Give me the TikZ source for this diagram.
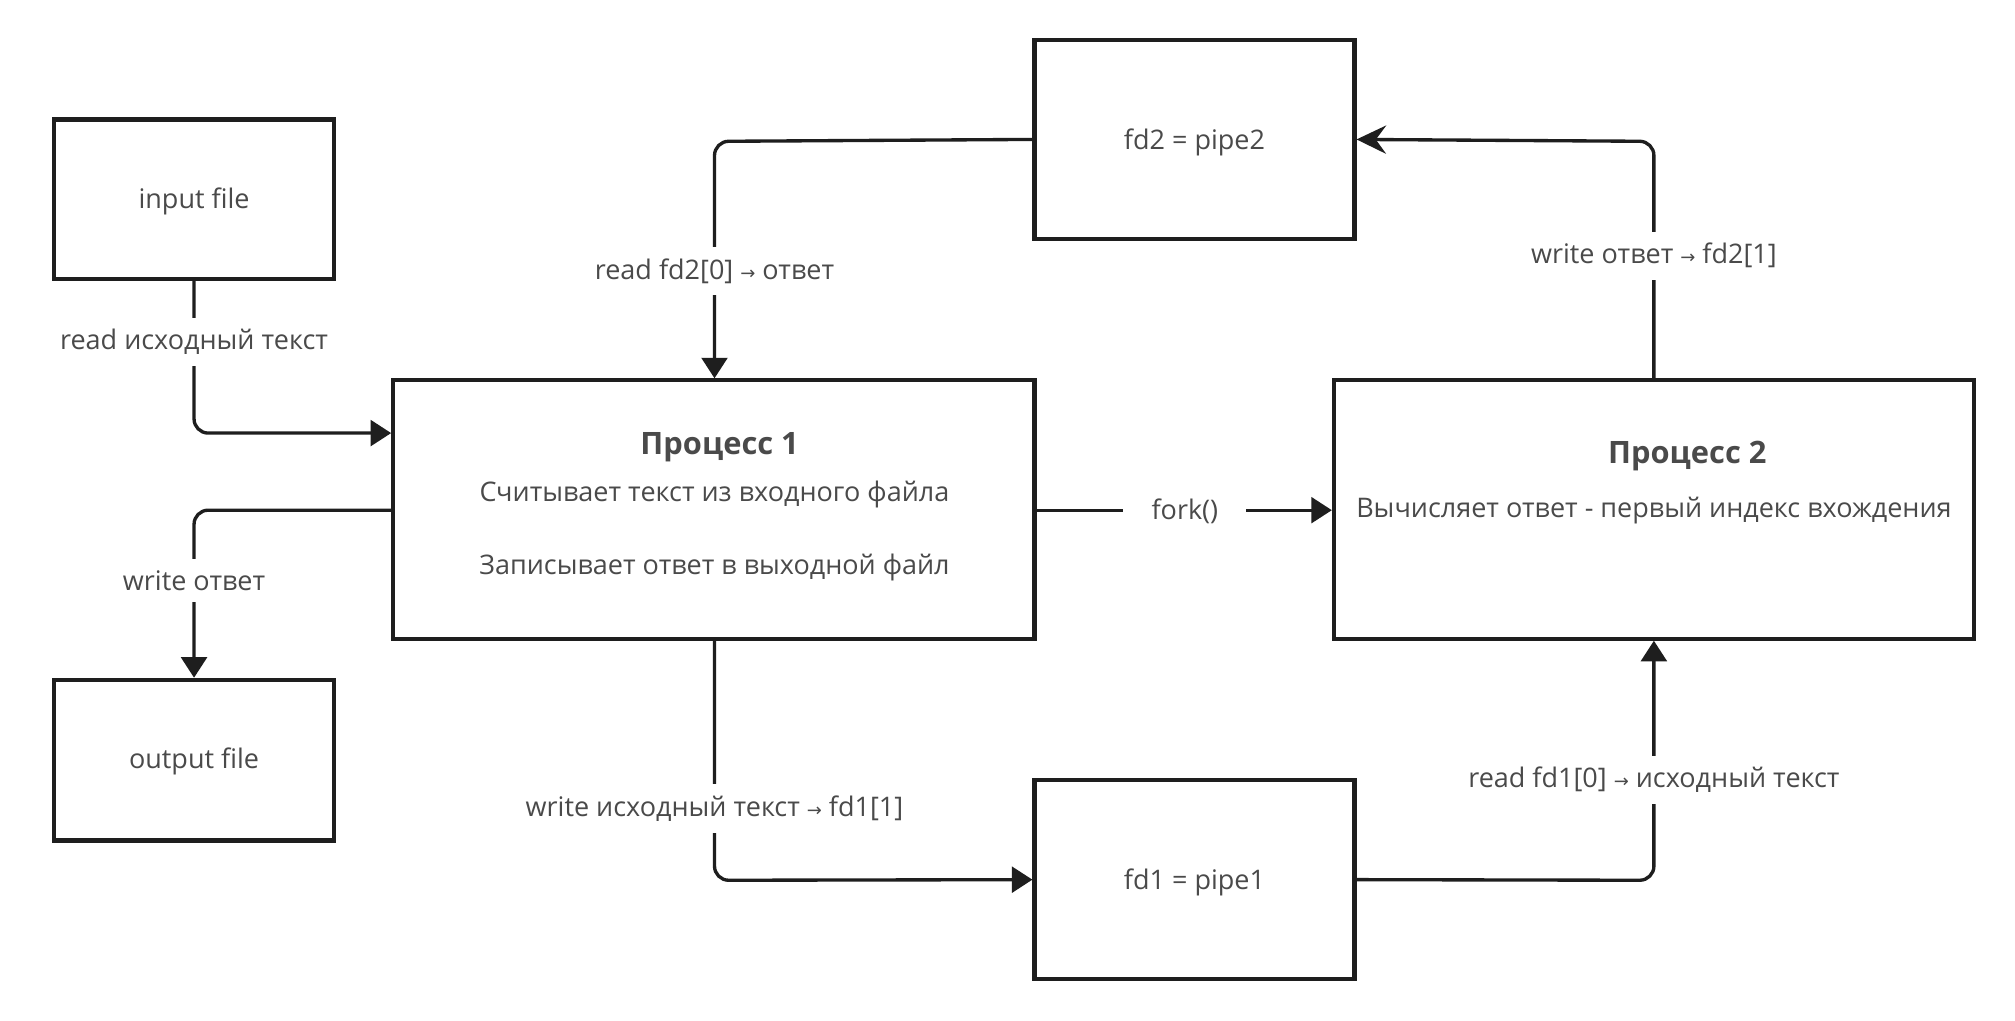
\documentclass[tikz,border=0pt]{standalone}
\usepackage{fontspec}
\setmainfont{Open Sans}
\newfontfamily\arrfont{DejaVu Sans}
\usetikzlibrary{arrows.meta}
\definecolor{ink}{HTML}{1E1E1E}
\definecolor{txt}{HTML}{4A4A4A}
\newcommand{\ra}{{\arrfont\fontsize{14}{14}\selectfont →}}
\tikzset{
  box/.style={draw=ink, line width=3.2pt, fill=white, inner sep=0pt},
  conn/.style={draw=ink, line width=2.6pt, rounded corners=11pt, -{Triangle[length=16pt,width=20pt]}},
  connS/.style={draw=ink, line width=2.6pt, rounded corners=11pt, -{Stealth[length=23pt,width=22pt,inset=8pt]}},
  lbl/.style={fill=white, text=txt, inner xsep=16pt, inner ysep=9pt, font=\fontsize{21}{25}\selectfont},
  ttl/.style={text=txt, anchor=base, inner sep=0pt, font=\bfseries\fontsize{24}{28}\selectfont},
  body/.style={text=txt, anchor=base, inner sep=0pt, font=\fontsize{21}{25}\selectfont}
}
\begin{document}
\begin{tikzpicture}[x=1pt,y=-1pt]
\useasboundingbox[fill=white] (0,0) rectangle (1568,794.5);
% boxes
\node[box, minimum width=218pt, minimum height=124pt] (in) at (151,155) {};
\node[box, minimum width=218pt, minimum height=125pt] (out) at (151,591.5) {};
\node[box, minimum width=499pt, minimum height=201pt] (p1) at (555.5,396.5) {};
\node[box, minimum width=498pt, minimum height=201pt] (p2) at (1287,396.5) {};
\node[box, minimum width=249pt, minimum height=155pt] (f2) at (929.5,108.5) {};
\node[box, minimum width=249pt, minimum height=155pt] (f1) at (929.5,684.5) {};
% box texts
\node[body] (int) at (151,162) {input file};
\node[body] (outt) at (151,598) {output file};
\node[body] (f2t) at (929.5,116) {fd2 = pipe2};
\node[body] (f1t) at (929.5,692) {fd1 = pipe1};
\node[ttl] (p1t) at (560,354) {Процесс 1};
\node[body] (p1a) at (556,390.5) {Считывает текст из входного файла};
\node[body] (p1b) at (556,447) {Записывает ответ в выходной файл};
\node[ttl] (p2t) at (1313,361) {Процесс 2};
\node[body] (p2a) at (1287,403) {Вычисляет ответ - первый индекс вхождения};
% coordinates
\coordinate (c1) at (151,337);
\coordinate (c2) at (151,397);
\coordinate (c3) at (556,110);
\coordinate (c4) at (1287,110);
\coordinate (c5) at (922,397);
\coordinate (c6) at (556,685);
\coordinate (c7) at (1287,685);
% connectors
\draw[conn] (in.south) -- (c1) -- (c1 -| p1.west);
\draw[conn] (c2 -| p1.west) -- (c2) -- (out.north);
\draw[conn] (f2.west) -- (c3) -- (c3 |- p1.north);
\draw[connS] (c4 |- p2.north) -- (c4) -- (f2.east);
\draw[conn] (p1.east |- c5) -- (p2.west |- c5);
\draw[conn] (c6 |- p1.south) -- (c6) -- (f1.west);
\draw[conn] (f1.east) -- (c7) -- (c7 |- p2.south);
% labels
\node[lbl] (l1) at (151,266) {read исходный текст};
\node[lbl] (l2) at (151,452) {write ответ};
\node[lbl] (l3) at (556,211) {read fd2[0] \ra{} ответ};
\node[lbl] (l4) at (1287,199) {write ответ \ra{} fd2[1]};
\node[lbl, inner xsep=22pt] (l5) at (922,398) {fork()};
\node[lbl] (l6) at (556,629) {write исходный текст \ra{} fd1[1]};
\node[lbl] (l7) at (1287,607) {read fd1[0] \ra{} исходный текст};
\end{tikzpicture}
\end{document}
